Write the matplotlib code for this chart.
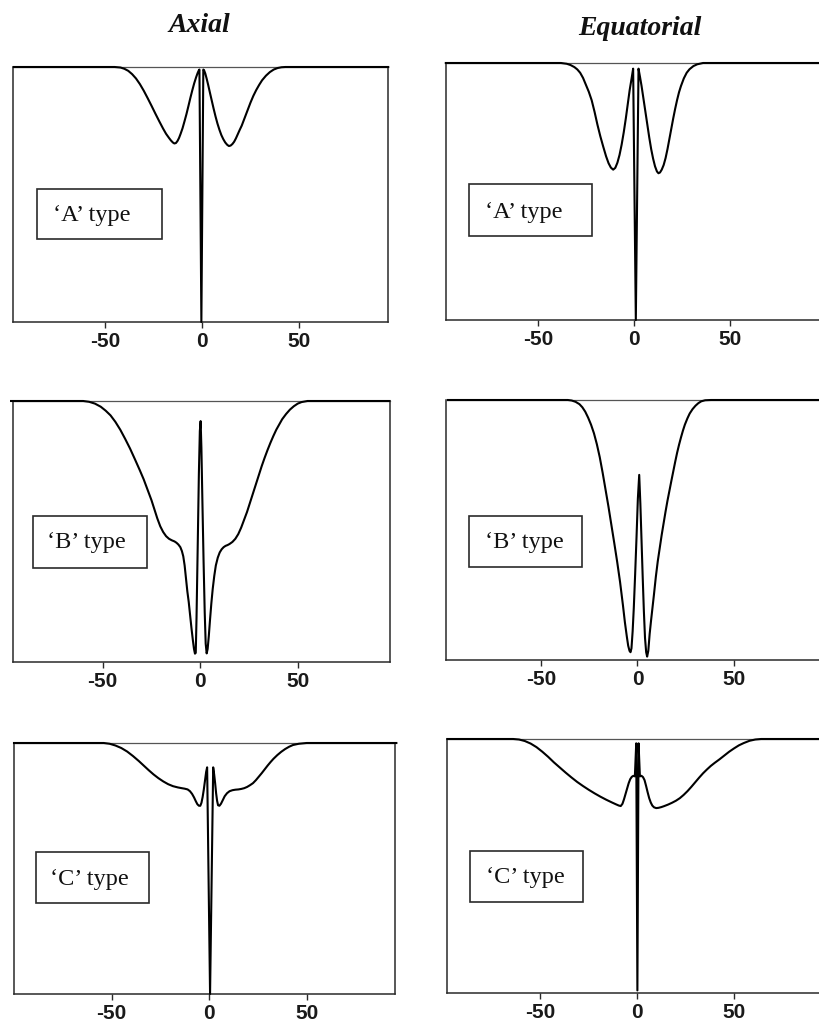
import matplotlib
matplotlib.use("Agg")
import matplotlib.pyplot as plt
from matplotlib.patches import Rectangle

# ---- data -------------------------------------------------------------
column_titles = ["Axial", "Equatorial"]
type_labels = ["\u2018A\u2019 type", "\u2018B\u2019 type", "\u2018C\u2019 type"]
tick_values = [-50, 0, 50]

axial_a_x = [-97, -45, -42, -40, -38, -36, -34, -32, -30, -28, -26, -24, -22, -20, -18.5, -17, -16,
             -15, -14.2, -13.4, -12.6, -11.8, -11, -10, -9, -8, -7, -6, -5, -4, -3, -2.2, -1.6,
             -1.3, -0.3, 0.7, 1.1, 1.7, 2.4, 3.2, 4, 5, 6, 7, 8, 9, 10, 11, 12, 13, 13.9, 14.8,
             15.7, 16.6, 17.5, 18.5, 19.5, 20.5, 22, 23.5, 25, 26.5, 28, 29.5, 31, 33, 35, 37, 39,
             41, 43, 96]
axial_a_y = [1.0, 1.0, 0.998, 0.993, 0.985, 0.972, 0.955, 0.933, 0.907, 0.878, 0.848, 0.817, 0.787,
             0.758, 0.738, 0.722, 0.712, 0.704, 0.70, 0.702, 0.71, 0.722, 0.738, 0.76, 0.787,
             0.815, 0.846, 0.878, 0.908, 0.936, 0.96, 0.977, 0.987, 0.99, 0.0, 0.99, 0.987, 0.975,
             0.955, 0.93, 0.903, 0.87, 0.837, 0.806, 0.778, 0.754, 0.733, 0.717, 0.704, 0.695,
             0.69, 0.692, 0.698, 0.707, 0.72, 0.737, 0.754, 0.77, 0.80, 0.83, 0.86, 0.887, 0.91,
             0.93, 0.948, 0.966, 0.98, 0.99, 0.996, 0.999, 1.0, 1.0]

equatorial_a_x = [-98, -38, -35, -33, -31, -29.5, -28, -26.5, -25, -23.5, -22, -20.5, -19, -17.5,
                  -16, -14.5, -13.2, -12, -10.8, -9.7, -8.6, -7.5, -6.4, -5.3, -4.2, -3.2, -2.2,
                  -1.2, -0.4, 1.0, 2.4, 3.2, 4.0, 5.0, 6.0, 7.0, 8.0, 9.0, 10.0, 11.0, 12.0, 12.8,
                  13.6, 14.5, 15.5, 16.5, 17.5, 18.5, 19.5, 20.5, 21.5, 22.5, 23.5, 24.5, 26,
                  27.5, 29, 31, 33, 36, 98]
equatorial_a_y = [1.0, 1.0, 0.997, 0.992, 0.984, 0.975, 0.962, 0.942, 0.915, 0.888, 0.855, 0.81,
                  0.76, 0.715, 0.675, 0.637, 0.61, 0.593, 0.585, 0.592, 0.612, 0.642, 0.682, 0.73,
                  0.785, 0.84, 0.895, 0.94, 0.978, 0.0, 0.978, 0.945, 0.91, 0.86, 0.81, 0.76,
                  0.71, 0.665, 0.628, 0.598, 0.578, 0.571, 0.574, 0.585, 0.603, 0.63, 0.665, 0.705,
                  0.745, 0.785, 0.822, 0.856, 0.886, 0.91, 0.94, 0.962, 0.976, 0.988, 0.995, 1.0,
                  1.0]

axial_b_x = [-97, -60, -57, -54, -51, -48.5, -46, -43.5, -41, -38.5, -36, -33.5, -31, -29, -27, -25,
             -23.5, -22, -20.5, -19, -17.5, -16, -14.5, -13.2, -12.2, -11.2, -10.2, -9.4, -8.7,
             -8.0, -7.3, -6.6, -5.9, -5.2, -4.5, -3.8, -3.2, -2.7, -2.3, -1.9, -1.3, -0.7, -0.2,
             0.2, 0.6, 1.1, 1.7, 2.3, 2.8, 3.3, 3.8, 4.4, 5.0, 5.7, 6.4, 7.2, 8.0, 9.0, 10.0,
             11.0, 12.0, 13.0, 14.0, 15.0, 16.5, 18, 19.5, 21, 22.5, 24, 25.5, 27, 28.5, 30, 31.5,
             33, 34.5, 36, 37.5, 39, 40.5, 42, 44, 46, 48, 50, 52, 55, 97]
axial_b_y = [1.0, 1.0, 0.997, 0.99, 0.978, 0.963, 0.945, 0.92, 0.89, 0.855, 0.818, 0.777, 0.735,
             0.70, 0.66, 0.62, 0.585, 0.55, 0.52, 0.498, 0.482, 0.472, 0.466, 0.462, 0.457, 0.45,
             0.44, 0.425, 0.405, 0.37, 0.32, 0.27, 0.23, 0.18, 0.13, 0.085, 0.05, 0.032, 0.035,
             0.17, 0.44, 0.72, 0.885, 0.923, 0.82, 0.62, 0.39, 0.19, 0.07, 0.033, 0.05, 0.1,
             0.16, 0.225, 0.28, 0.33, 0.37, 0.40, 0.42, 0.432, 0.44, 0.445, 0.448, 0.452, 0.46,
             0.472, 0.49, 0.515, 0.545, 0.575, 0.61, 0.645, 0.68, 0.715, 0.75, 0.782, 0.812,
             0.84, 0.866, 0.89, 0.91, 0.93, 0.95, 0.967, 0.98, 0.99, 0.996, 1.0, 1.0]

equatorial_b_x = [-98, -36, -34, -32, -30, -28.5, -27, -25.5, -24, -22.5, -21, -19.5, -18, -16.5,
                  -15, -13.5, -12, -10.5, -9, -7.5, -6.5, -5.5, -4.8, -4.1, -3.6, -3.1, -2.5,
                  -1.9, -1.2, -0.5, 0.2, 0.9, 1.5, 2.1, 2.7, 3.3, 3.9, 4.5, 5.0, 5.6, 6.3, 7.0,
                  7.6, 8.5, 9.5, 10.5, 11.5, 12.5, 13.5, 14.5, 15.5, 16.5, 17.5, 18.5, 19.5, 20.5,
                  21.5, 22.5, 23.5, 24.5, 25.8, 27, 28.5, 30, 31.5, 33, 35, 38, 98]
equatorial_b_y = [1.0, 1.0, 0.998, 0.993, 0.984, 0.972, 0.955, 0.932, 0.905, 0.872, 0.83, 0.78,
                  0.72, 0.655, 0.59, 0.52, 0.45, 0.378, 0.30, 0.21, 0.145, 0.09, 0.055, 0.035,
                  0.03, 0.045, 0.11, 0.20, 0.33, 0.47, 0.62, 0.712, 0.60, 0.46, 0.32, 0.19, 0.085,
                  0.03, 0.013, 0.035, 0.10, 0.15, 0.19, 0.25, 0.32, 0.38, 0.43, 0.48, 0.525, 0.57,
                  0.612, 0.65, 0.688, 0.725, 0.762, 0.797, 0.828, 0.856, 0.882, 0.905, 0.929, 0.948,
                  0.965, 0.978, 0.988, 0.995, 0.999, 1.0, 1.0]

axial_c_x = [-100, -54, -51, -48, -45, -42, -39, -36, -33.5, -31, -28.5, -26, -23.5, -21, -18.5, -16,
             -14, -12.5, -11, -9.8, -8.7, -7.7, -6.8, -6.0, -5.2, -4.5, -3.9, -3.3, -2.7, -2.1,
             -1.5, -1.0, 0.5, 2.1, 2.6, 3.1, 3.6, 4.1, 4.6, 5.3, 6.1, 7.0, 8.0, 9.2, 10.5, 12,
             13.5, 15, 16.5, 18, 19.5, 21, 22.5, 24, 25.5, 27, 28.5, 30, 31.5, 33, 35, 37, 39,
             41, 43, 46, 50, 96]
axial_c_y = [1.0, 1.0, 0.997, 0.99, 0.98, 0.966, 0.948, 0.928, 0.91, 0.892, 0.875, 0.86, 0.847,
             0.836, 0.828, 0.823, 0.82, 0.818, 0.815, 0.808, 0.797, 0.783, 0.768, 0.756, 0.75,
             0.75, 0.762, 0.785, 0.815, 0.85, 0.885, 0.903, 0.0, 0.903, 0.875, 0.84, 0.80, 0.77,
             0.752, 0.75, 0.758, 0.772, 0.788, 0.80, 0.808, 0.812, 0.814, 0.815, 0.817, 0.82,
             0.825, 0.832, 0.84, 0.852, 0.866, 0.88, 0.895, 0.91, 0.924, 0.937, 0.952, 0.965,
             0.976, 0.985, 0.992, 0.997, 1.0, 1.0]

equatorial_c_x = [-98, -64, -61, -58, -55, -52, -49, -46, -43, -40, -37, -34, -31, -28, -25, -22,
                  -19, -16, -13, -11, -9.5, -8.5, -7.6, -6.8, -6.0, -5.2, -4.4, -3.6, -2.8, -2.0,
                  -1.2, -0.5, 0.1, 0.7, 1.4, 2.2, 3.0, 3.8, 4.6, 5.4, 6.2, 7.0, 7.8, 8.7, 9.8, 11,
                  12.5, 14, 16, 18, 20, 22, 24, 26, 28, 30, 32, 34, 36, 38, 40, 42.5, 45, 47.5, 50,
                  52.5, 55, 58, 61, 64, 98]
equatorial_c_y = [1.0, 1.0, 0.998, 0.992, 0.982, 0.968, 0.95, 0.93, 0.908, 0.888, 0.868, 0.849,
                  0.831, 0.815, 0.80, 0.786, 0.773, 0.761, 0.75, 0.743, 0.738, 0.736, 0.745, 0.763,
                  0.784, 0.805, 0.826, 0.842, 0.851, 0.855, 0.853, 0.983, 0.01, 0.983, 0.853, 0.855,
                  0.85, 0.838, 0.815, 0.79, 0.767, 0.75, 0.738, 0.731, 0.728, 0.729, 0.732, 0.736,
                  0.742, 0.749, 0.757, 0.767, 0.78, 0.795, 0.812, 0.83, 0.848, 0.865, 0.88, 0.894,
                  0.906, 0.92, 0.935, 0.95, 0.963, 0.975, 0.984, 0.993, 0.998, 1.0, 1.0]

# ---- layout (pixel boxes: left, top, right, bottom) ----------------------
W, H = 820, 1024
panels = [
    # (x data, y data, axes box px, xlim, label box px, label text pos px)
    (axial_a_x, axial_a_y, (13, 67, 388, 322), (-97.4, 95.9), (37, 189, 162, 239), (53, 221)),
    (equatorial_a_x, equatorial_a_y, (446, 63, 822, 320), (-97.9, 98), (469, 184, 592, 236), (485, 218)),
    (axial_b_x, axial_b_y, (13, 401, 390, 662), (-96.0, 97.3), (33, 516, 147, 568), (47, 548)),
    (equatorial_b_x, equatorial_b_y, (446, 400, 827, 660), (-99.0, 98), (469, 516, 582, 567), (485, 548)),
    (axial_c_x, axial_c_y, (14, 743, 395, 994), (-100.0, 95.3), (36, 852, 149, 903), (50, 885)),
    (equatorial_c_x, equatorial_c_y, (447, 739, 827, 993), (-98.2, 98), (470, 851, 583, 902), (486, 883)),
]

fig = plt.figure(figsize=(W / 100, H / 100), dpi=100)
fig.patch.set_facecolor("white")


def fx(px):
    return px / W


def fy(py):
    return 1 - py / H


edge = "#2a2a2a"
for i, (xs, ys, box, xlim, lbox, lpos) in enumerate(panels):
    l, t, r, b = box
    ax = fig.add_axes([fx(l), fy(b), (r - l) / W, (b - t) / H])
    ax.plot(xs, ys, color="black", lw=1.5, solid_joinstyle="round", clip_on=False, zorder=3)
    ax.set_xlim(*xlim)
    ax.set_ylim(0, 1)
    ax.set_yticks([])
    ax.set_xticks(tick_values)
    ax.set_xticklabels([str(v) for v in tick_values])
    ax.tick_params(axis="x", direction="out", length=4, width=1.0, color=edge, pad=3,
                   labelsize=15, labelcolor="#1a1a1a")
    for lab in ax.get_xticklabels():
        lab.set_fontfamily("Liberation Sans")
        lab.set_fontweight("bold")
    for name, sp in ax.spines.items():
        sp.set_color(edge)
        sp.set_linewidth(1.1)
    ax.spines["top"].set_color("#555555")
    ax.spines["top"].set_linewidth(0.9)

    # label box
    bl, bt, br, bb = lbox
    fig.patches.append(Rectangle((fx(bl), fy(bb)), (br - bl) / W, (bb - bt) / H,
                                 transform=fig.transFigure, fill=False,
                                 edgecolor=edge, linewidth=1.2, zorder=5))
    fig.text(fx(lpos[0]), fy(lpos[1]), type_labels[i // 2], family="Liberation Serif",
             fontsize=17.5, color="#111111", ha="left", va="baseline", zorder=6)

# column headings
fig.text(fx(199), fy(32), column_titles[0], family="Liberation Serif", fontsize=20,
         fontweight="bold", fontstyle="italic", ha="center", va="baseline", color="#111111")
fig.text(fx(640), fy(35), column_titles[1], family="Liberation Serif", fontsize=20,
         fontweight="bold", fontstyle="italic", ha="center", va="baseline", color="#111111")

fig.savefig("out.png", dpi=100)
